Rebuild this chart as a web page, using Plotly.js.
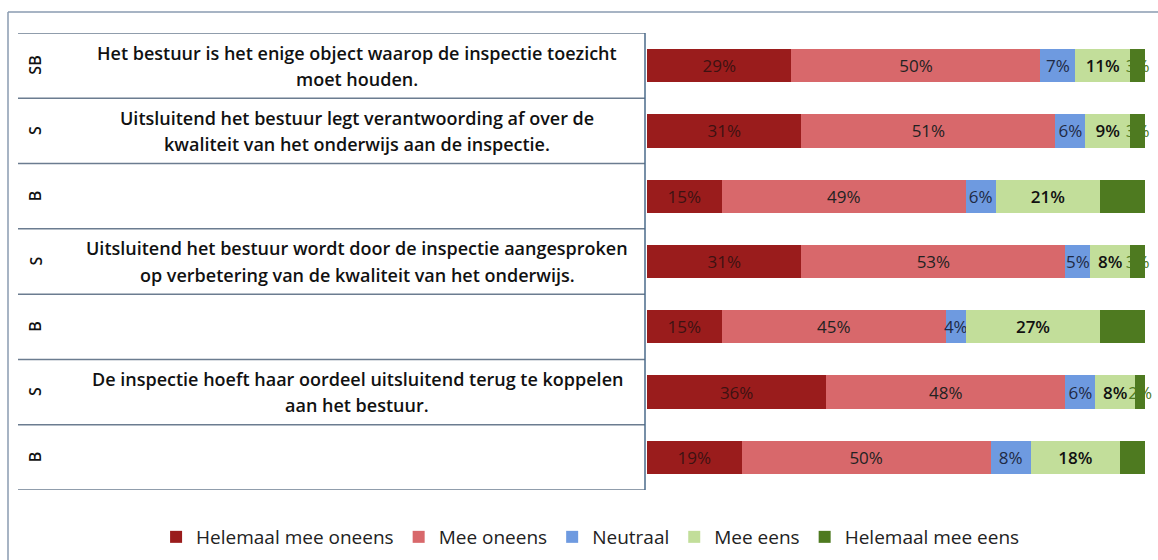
<!DOCTYPE html>
<html>
<head>
<meta charset="utf-8">
<script src="https://cdn.plot.ly/plotly-3.0.1.min.js"></script>
<style>html,body{margin:0;padding:0;background:#fff;}#chart{width:1158px;height:560px;}</style>
</head>
<body>
<div id="chart"></div>
<script>
// ---- data ----
var rowLabels = ["SB", "S", "B", "S", "B", "S", "B"];
var statements = [
  ["Het bestuur is het enige object waarop de inspectie toezicht", "moet houden."],
  ["Uitsluitend het bestuur legt verantwoording af over de", "kwaliteit van het onderwijs aan de inspectie."],
  null,
  ["Uitsluitend het bestuur wordt door de inspectie aangesproken", "op verbetering van de kwaliteit van het onderwijs."],
  null,
  ["De inspectie hoeft haar oordeel uitsluitend terug te koppelen", "aan het bestuur."],
  null
];
var seriesNames = ["Helemaal mee oneens", "Mee oneens", "Neutraal", "Mee eens", "Helemaal mee eens"];
var helemaalOneens = [29, 31, 15, 31, 15, 36, 19];
var meeOneens      = [50, 51, 49, 53, 45, 48, 50];
var neutraal       = [7, 6, 6, 5, 4, 6, 8];
var meeEens        = [11, 9, 21, 8, 27, 8, 18];
var helemaalEens   = [3, 3, 9, 3, 9, 2, 5];

// ---- styles ----
var colors = ["#9a1c1c", "#d8686b", "#6e9ae0", "#c2de9a", "#4e7a20"];
var textColors = ["#3d1212", "#222222", "#1f2a44", "#111111", "#4e7a20"];
var W = 1158, H = 560;
var rows = rowLabels.map(function (_, i) { return i; });
var series = [helemaalOneens, meeOneens, neutraal, meeEens, helemaalEens];

var traces = series.map(function (vals, k) {
  return {
    type: "bar",
    orientation: "h",
    name: seriesNames[k],
    y: rows,
    x: vals,
    text: vals.map(function (v) { return v + "%"; }),
    textposition: "inside",
    insidetextanchor: "middle",
    constraintext: "none",
    textangle: 0,
    cliponaxis: false,
    textfont: { family: "Open Sans", size: 17, weight: k === 3 ? 600 : 400, color: textColors[k] },
    marker: { color: colors[k], line: { width: 0 } },
    hoverinfo: "skip"
  };
});

var lineCol = "#6b7c90";
var shapes = [];
for (var i = 0; i <= rowLabels.length; i++) {
  shapes.push({ type: "line", xref: "paper", yref: "y", x0: 18 / W, x1: 645 / W, y0: i - 0.5, y1: i - 0.5,
    line: { color: lineCol, width: 1.5 } });
}
shapes.push({ type: "line", xref: "paper", yref: "y", x0: 645 / W, x1: 645 / W, y0: -0.5, y1: rowLabels.length - 0.5,
  line: { color: "#4a6a8a", width: 1.5 } });
shapes.push({ type: "line", xref: "paper", yref: "paper", x0: 8 / W, x1: 1, y0: 1 - 12 / H, y1: 1 - 12 / H,
  line: { color: "#8a9bb0", width: 1.5 } });
shapes.push({ type: "line", xref: "paper", yref: "paper", x0: 8 / W, x1: 8 / W, y0: 1 - 12 / H, y1: 0,
  line: { color: "#8a9bb0", width: 1.5 } });

var annotations = [];
rowLabels.forEach(function (lab, i) {
  annotations.push({ xref: "paper", yref: "y", x: 35 / W, y: i, text: lab, showarrow: false, textangle: -90,
    xanchor: "center", yanchor: "middle", font: { family: "Open Sans", size: 16, weight: 600, color: "#111" } });
  var st = statements[i];
  if (st) {
    st.forEach(function (ln, j) {
      annotations.push({ xref: "paper", yref: "y", x: 357 / W, y: i - 0.2 + 0.4 * j, text: ln, showarrow: false,
        xanchor: "center", yanchor: "middle", font: { family: "Open Sans", size: 18, weight: 600, color: "#111" } });
    });
  }
});

var layout = {
  width: W, height: H,
  margin: { l: 0, r: 0, t: 0, b: 0 },
  paper_bgcolor: "#ffffff", plot_bgcolor: "#ffffff",
  barmode: "stack",
  bargap: 0.49,
  showlegend: true,
  legend: { orientation: "h", x: 0.51, xanchor: "center", y: 1 - 537 / H, yanchor: "middle",
    font: { family: "Open Sans", size: 19, color: "#222" }, itemwidth: 30, traceorder: "normal" },
  xaxis: { domain: [647 / W, 1], range: [0, 102.6], showgrid: false, zeroline: false, showticklabels: false, showline: false, fixedrange: true },
  yaxis: { domain: [1 - 490 / H, 1 - 33 / H], range: [6.5, -0.5], showgrid: false, zeroline: false, showticklabels: false, showline: false, fixedrange: true },
  shapes: shapes,
  annotations: annotations
};

Plotly.newPlot("chart", traces, layout, { displayModeBar: false, staticPlot: true });
</script>
</body>
</html>
